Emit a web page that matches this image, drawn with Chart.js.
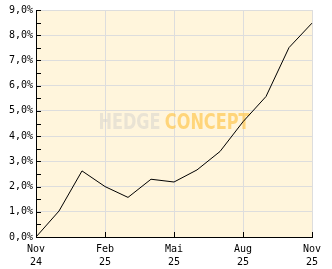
<!DOCTYPE html>
<html>
<head>
<meta charset="utf-8">
<script src="https://cdn.jsdelivr.net/npm/chart.js@4"></script>
<style>
html,body{margin:0;padding:0;background:#fff;}
#wrap{width:332px;height:269px;position:relative;}
</style>
</head>
<body>
<div id="wrap"><canvas id="c" width="332" height="269"></canvas></div>
<script>
const months = ["Nov 24","Dec 24","Jan 25","Feb 25","Mar 25","Apr 25","Mai 25","Jun 25","Jul 25","Aug 25","Sep 25","Oct 25","Nov 25"];
const tickMonths = {0:["Nov","24"],3:["Feb","25"],6:["Mai","25"],9:["Aug","25"],12:["Nov","25"]};
const performance = [0, 1.03, 2.62, 2.0, 1.57, 2.29, 2.18, 2.66, 3.39, 4.57, 5.57, 7.51, 8.48];
const yTicks = [0,1,2,3,4,5,6,7,8,9];

const bgPlugin = {
  id: 'bg',
  beforeDraw(chart) {
    const {ctx, chartArea: a} = chart;
    ctx.save();
    ctx.fillStyle = '#FFF5DC';
    ctx.fillRect(a.left, a.top, a.right - a.left, a.bottom - a.top);
    ctx.restore();
  },
  beforeDatasetsDraw(chart) {
    const {ctx, chartArea: a} = chart;
    const cx = (a.left + a.right) / 2, cy = (a.top + a.bottom) / 2 + 0;
    ctx.save();
    ctx.font = 'bold 21px "Liberation Sans Narrow", "DejaVu Sans Condensed", sans-serif';
    ctx.textBaseline = 'middle';
    const w1 = ctx.measureText('HEDGE').width;
    const w2 = ctx.measureText('CONCEPT').width;
    const gap = 5;
    const target = 151;
    const sx = target / (w1 + w2 + gap);
    ctx.translate(cx - target / 2, cy);
    ctx.scale(sx, 1);
    ctx.fillStyle = 'rgba(215,212,205,0.55)';
    ctx.fillText('HEDGE', 0, 0);
    ctx.fillStyle = 'rgba(255,200,80,0.7)';
    ctx.fillText('CONCEPT', w1 + gap, 0);
    ctx.restore();
  },
  afterDraw(chart) {
    const {ctx, chartArea: a} = chart;
    const ys = chart.scales.y, xs = chart.scales.x;
    ctx.save();
    ctx.strokeStyle = '#000';
    ctx.lineWidth = 1;
    ctx.beginPath();
    for (let v = 0; v <= 9.001; v += 0.5) {
      const py = Math.round(ys.getPixelForValue(v)) + 0.5;
      ctx.moveTo(a.left, py);
      ctx.lineTo(a.left + 5, py);
    }
    Object.keys(tickMonths).forEach(i => {
      const px = Math.round(xs.getPixelForValue(+i)) + 0.5;
      ctx.moveTo(px, a.bottom);
      ctx.lineTo(px, a.bottom - 5);
    });
    ctx.stroke();
    ctx.restore();
  }
};

new Chart(document.getElementById('c'), {
  type: 'line',
  data: {
    labels: months,
    datasets: [{
      data: performance,
      borderColor: '#000',
      borderWidth: 1,
      pointRadius: 0,
      tension: 0,
      fill: false
    }]
  },
  options: {
    responsive: false,
    animation: false,
    devicePixelRatio: 1,
    layout: {padding: {left: 0, right: 20, top: 10, bottom: 0}},
    plugins: {legend: {display: false}, tooltip: {enabled: false}},
    scales: {
      x: {
        offset: false,
        grid: {
          color: c => (c.index % 3 === 0 ? '#DDDDDD' : 'rgba(0,0,0,0)'),
          drawTicks: false
        },
        border: {color: '#000', width: 1},
        ticks: {
          autoSkip: false,
          maxRotation: 0,
          padding: 6,
          color: '#000',
          font: {family: '"DejaVu Sans Mono", monospace', size: 10, lineHeight: 1.3},
          callback: (v, i) => tickMonths[i] || ''
        },
        afterFit: s => { s.height = 32; }
      },
      y: {
        min: 0, max: 9,
        afterBuildTicks: s => { s.ticks = yTicks.map(v => ({value: v})); },
        grid: {color: '#DDDDDD', drawTicks: false},
        border: {color: '#000', width: 1},
        ticks: {
          padding: 3,
          color: '#000',
          font: {family: '"DejaVu Sans Mono", monospace', size: 10},
          callback: v => v.toFixed(1).replace('.', ',') + '%'
        },
        afterFit: s => { s.width = 36; }
      }
    }
  },
  plugins: [bgPlugin]
});
</script>
</body>
</html>
